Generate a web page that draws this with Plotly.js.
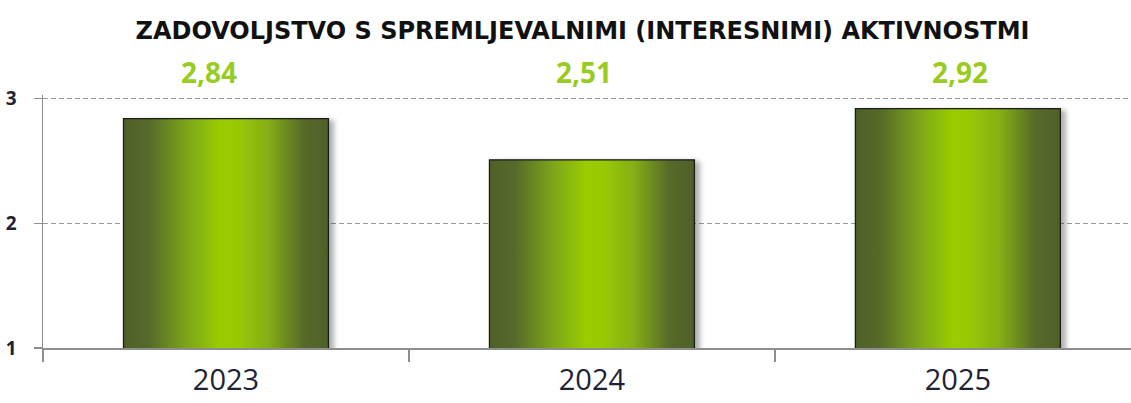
<!DOCTYPE html>
<html>
<head>
<meta charset="utf-8">
<script src="https://cdn.plot.ly/plotly-3.0.1.min.js"></script>
<style>html,body{margin:0;padding:0;background:#fff;}#chart{width:1131px;height:403px;}</style>
</head>
<body>
<div id="chart"></div>
<script>
const titleText = 'ZADOVOLJSTVO S SPREMLJEVALNIMI (INTERESNIMI) AKTIVNOSTMI';
const years = ['2023', '2024', '2025'];
const values = [2.84, 2.51, 2.92];
const yTicks = [1, 2, 3];

const labelShift = [-17, -8, 2];

const trace = {
  type: 'bar',
  x: years,
  y: values,
  width: 0.56,
  marker: { color: '#99cc00', line: { color: '#1a1a1a', width: 1.3 } },
  hoverinfo: 'skip',
  cliponaxis: true
};

const annotations = years.map((yr, i) => ({
  x: i, y: 1.091, xref: 'x', yref: 'paper', yanchor: 'middle',
  text: '<b>' + values[i].toFixed(2).replace('.', ',') + '</b>',
  showarrow: false, xshift: labelShift[i],
  font: { family: 'Open Sans', size: 28, color: '#99cc22' }
}));

const layout = {
  width: 1131, height: 403,
  margin: { l: 43, r: 0, t: 95, b: 55 },
  paper_bgcolor: '#ffffff', plot_bgcolor: '#ffffff',
  showlegend: false,
  title: {
    text: '<b>' + titleText + '</b>',
    font: { family: 'DejaVu Sans', size: 24, color: '#111111' },
    x: 0.515, xanchor: 'center', y: 0.925, yanchor: 'middle'
  },
  xaxis: {
    type: 'category', range: [-0.5, 2.473], fixedrange: true,
    showline: true, linecolor: '#8e8e8e', linewidth: 1.5,
    ticks: 'outside', tickson: 'boundaries', ticklen: 12, tickcolor: '#8e8e8e', tickwidth: 1.5,
    tickfont: { family: 'Open Sans', size: 29, color: '#1e2235' },
    ticklabelstandoff: 6,
    showgrid: false
  },
  yaxis: {
    range: [1, 3.03], tickvals: yTicks, fixedrange: true,
    showline: true, linecolor: '#8e8e8e', linewidth: 1.5,
    ticks: 'outside', ticklen: 8, tickcolor: '#8e8e8e', tickwidth: 1.5,
    tickfont: { family: 'Open Sans', size: 19, color: '#1e2235', weight: 'bold' },
    ticklabelstandoff: 13,
    showgrid: true, gridcolor: '#9a9a9a', gridwidth: 1, griddash: '5px,3px',
    zeroline: false
  },
  annotations: annotations
};

Plotly.newPlot('chart', [trace], layout, { staticPlot: true, displayModeBar: false }).then(gd => {
  const svg = gd.querySelector('svg.main-svg');
  const ns = 'http://www.w3.org/2000/svg';
  let defs = svg.querySelector('defs');
  if (!defs) { defs = document.createElementNS(ns, 'defs'); svg.insertBefore(defs, svg.firstChild); }
  const grad = document.createElementNS(ns, 'linearGradient');
  grad.setAttribute('id', 'barGrad');
  grad.setAttribute('x1', '0'); grad.setAttribute('y1', '0');
  grad.setAttribute('x2', '1'); grad.setAttribute('y2', '0');
  const stops = [[0, '#4f6128'], [0.12, '#55692a'], [0.32, '#7fa818'], [0.47, '#99cc00'], [0.55, '#98ca04'], [0.7, '#86b014'], [0.88, '#56692a'], [1, '#4f6128']];
  stops.forEach(([o, c]) => {
    const s = document.createElementNS(ns, 'stop');
    s.setAttribute('offset', o); s.setAttribute('stop-color', c);
    grad.appendChild(s);
  });
  defs.appendChild(grad);
  const filt = document.createElementNS(ns, 'filter');
  filt.setAttribute('id', 'barShadow');
  filt.setAttribute('x', '-10%'); filt.setAttribute('y', '-10%');
  filt.setAttribute('width', '130%'); filt.setAttribute('height', '120%');
  filt.innerHTML = '<feDropShadow dx="5" dy="2" stdDeviation="2.5" flood-color="#000" flood-opacity="0.3"/>';
  defs.appendChild(filt);
  gd.querySelectorAll('.trace.bars .point path').forEach(p => {
    p.style.fill = 'url(#barGrad)';
    p.style.fillOpacity = 1;
    p.setAttribute('filter', 'url(#barShadow)');
  });
});
</script>
</body>
</html>
